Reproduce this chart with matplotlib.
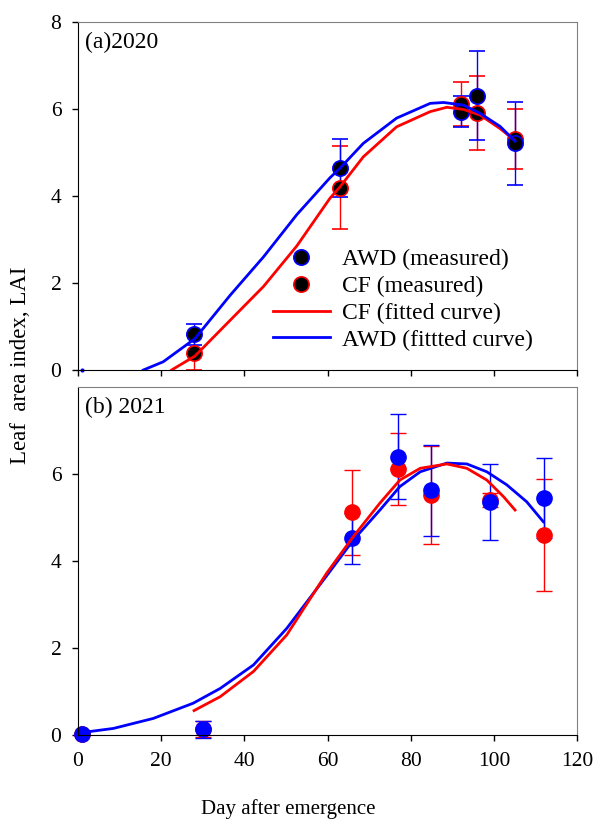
import matplotlib
matplotlib.use('Agg')
import matplotlib.pyplot as plt
from matplotlib.lines import Line2D

plt.rcParams['font.family'] = ['Liberation Serif', 'DejaVu Serif']

# ---- 2020 measured ----
days_2020 = [28, 63, 92, 96, 105]
awd_2020 = [0.82, 4.64, 5.94, 6.31, 5.21]
awd_2020_err = [0.24, 0.67, 0.35, 1.02, 0.95]
cf_2020 = [0.40, 4.19, 6.12, 5.90, 5.30]
cf_2020_err = [0.40, 0.95, 0.50, 0.85, 0.69]

# ---- 2020 fitted curves ----
awd_fit_2020_x = [15.7, 20.5, 28.1, 36.6, 44.6, 52.6, 60.6, 63.0, 68.6, 76.6, 84.7, 87.9, 92.7, 96.7, 101.5, 105.1]
awd_fit_2020_y = [0.00, 0.19, 0.72, 1.72, 2.60, 3.57, 4.42, 4.64, 5.21, 5.79, 6.13, 6.15, 6.09, 5.90, 5.60, 5.26]
cf_fit_2020_x = [22.5, 28.1, 38.2, 44.6, 52.6, 60.6, 63.0, 68.6, 76.6, 84.7, 88.7, 92.7, 96.7, 101.5, 105.0]
cf_fit_2020_y = [0.00, 0.32, 1.30, 1.92, 2.85, 3.95, 4.21, 4.90, 5.59, 5.94, 6.04, 5.99, 5.86, 5.55, 5.28]

# ---- 2021 measured ----
days_2021 = [1, 30, 66, 77, 85, 99, 112]
awd_2021 = [0.02, 0.13, 4.52, 6.40, 5.62, 5.36, 5.44]
awd_2021_err = [0.0, 0.19, 0.59, 0.98, 1.04, 0.87, 0.92]
cf_2021 = [0.02, 0.13, 5.12, 6.11, 5.52, 5.40, 4.60]
cf_2021_err = [0.0, 0.18, 0.98, 0.82, 1.12, 0.17, 1.29]

# ---- 2021 fitted curves ----
awd_fit_2021_x = [1.3, 8.5, 18.1, 27.7, 34.2, 42.2, 50.2, 59.8, 66.2, 72.6, 77.4, 82.3, 88.7, 93.5, 98.3, 103.1, 107.9, 111.9]
awd_fit_2021_y = [0.06, 0.15, 0.38, 0.73, 1.07, 1.61, 2.45, 3.66, 4.48, 5.17, 5.71, 6.05, 6.25, 6.23, 6.05, 5.75, 5.36, 4.90]
cf_fit_2021_x = [27.9, 34.2, 42.2, 50.2, 59.8, 66.2, 72.6, 77.4, 82.3, 88.7, 93.5, 98.3, 102.3, 105.1]
cf_fit_2021_y = [0.56, 0.88, 1.46, 2.30, 3.72, 4.56, 5.33, 5.86, 6.13, 6.23, 6.13, 5.86, 5.48, 5.17]

BLUE = '#0000ff'
RED = '#ff0000'

fig = plt.figure(figsize=(5.95, 8.21), dpi=100)
ax1 = fig.add_axes([0.1311, 0.5493, 0.8387, 0.4239])
ax2 = fig.add_axes([0.1311, 0.1048, 0.8387, 0.4239])

eb = dict(fmt='o', capsize=6, elinewidth=1, capthick=1, markersize=11, linestyle='none')

# top panel
ax1.errorbar(days_2020, cf_2020, yerr=cf_2020_err, mfc='black', mec=RED, mew=1.2, ecolor=RED, **eb)
ax1.errorbar(days_2020, awd_2020, yerr=awd_2020_err, mfc='black', mec=BLUE, mew=1.2, ecolor=BLUE, **eb)
ax1.plot([1], [0], 'o', color=BLUE, markersize=2, clip_on=False)
ax1.plot(cf_fit_2020_x, cf_fit_2020_y, color=RED, lw=2, zorder=5, solid_joinstyle='round')
ax1.plot(awd_fit_2020_x, awd_fit_2020_y, color=BLUE, lw=2, zorder=6, solid_joinstyle='round')

# bottom panel
ax2.errorbar(days_2021, cf_2021, yerr=cf_2021_err, mfc=RED, mec=RED, ecolor=RED, clip_on=False, **eb)
ax2.errorbar(days_2021, awd_2021, yerr=awd_2021_err, mfc=BLUE, mec=BLUE, ecolor=BLUE, clip_on=False, **eb)
ax2.plot(awd_fit_2021_x, awd_fit_2021_y, color=BLUE, lw=2, zorder=5, solid_joinstyle='round')
ax2.plot(cf_fit_2021_x, cf_fit_2021_y, color=RED, lw=2, zorder=6, solid_joinstyle='round')

for ax in (ax1, ax2):
    ax.set_xlim(0, 120)
    ax.set_ylim(0, 8)
    ax.set_xticks([0, 20, 40, 60, 80, 100, 120])
    ax.tick_params(direction='out', length=4, width=1, labelsize=15.5, pad=8,
                   top=False, right=False)
    ax.spines['top'].set_color('#808080')
    ax.spines['right'].set_color('#808080')
    ax.spines['left'].set_color('black')
    ax.spines['bottom'].set_color('black')

ax1.set_yticks([0, 2, 4, 6, 8])
ax1.tick_params(labelbottom=False)
ax2.set_yticks([0, 2, 4, 6])

ax1.text(0.014, 0.94, '(a)2020', transform=ax1.transAxes, fontsize=17, va='center', ha='left')
ax2.text(0.014, 0.94, '(b) 2021', transform=ax2.transAxes, fontsize=17, va='center', ha='left')

handles = [
    Line2D([], [], marker='o', linestyle='none', mfc='black', mec=BLUE, mew=1.2, markersize=11),
    Line2D([], [], marker='o', linestyle='none', mfc='black', mec=RED, mew=1.2, markersize=11),
    Line2D([], [], color=RED, lw=2),
    Line2D([], [], color=BLUE, lw=2),
]
labels = ['AWD (measured)', 'CF (measured)', 'CF (fitted curve)', 'AWD (fittted curve)']
ax1.legend(handles, labels, loc='upper left', bbox_to_anchor=(0.391, 0.348), frameon=False,
           fontsize=17, borderpad=0, borderaxespad=0, handlelength=2.4, handletextpad=0.5,
           labelspacing=0.22, numpoints=1)

fig.text(0.035, 0.5554, 'Leaf  area index, LAI', rotation=90, fontsize=16.5, ha='center', va='center')
fig.text(0.484, 0.0085, 'Day after emergence', fontsize=15, ha='center', va='baseline')

fig.savefig('out.png', dpi=100)
